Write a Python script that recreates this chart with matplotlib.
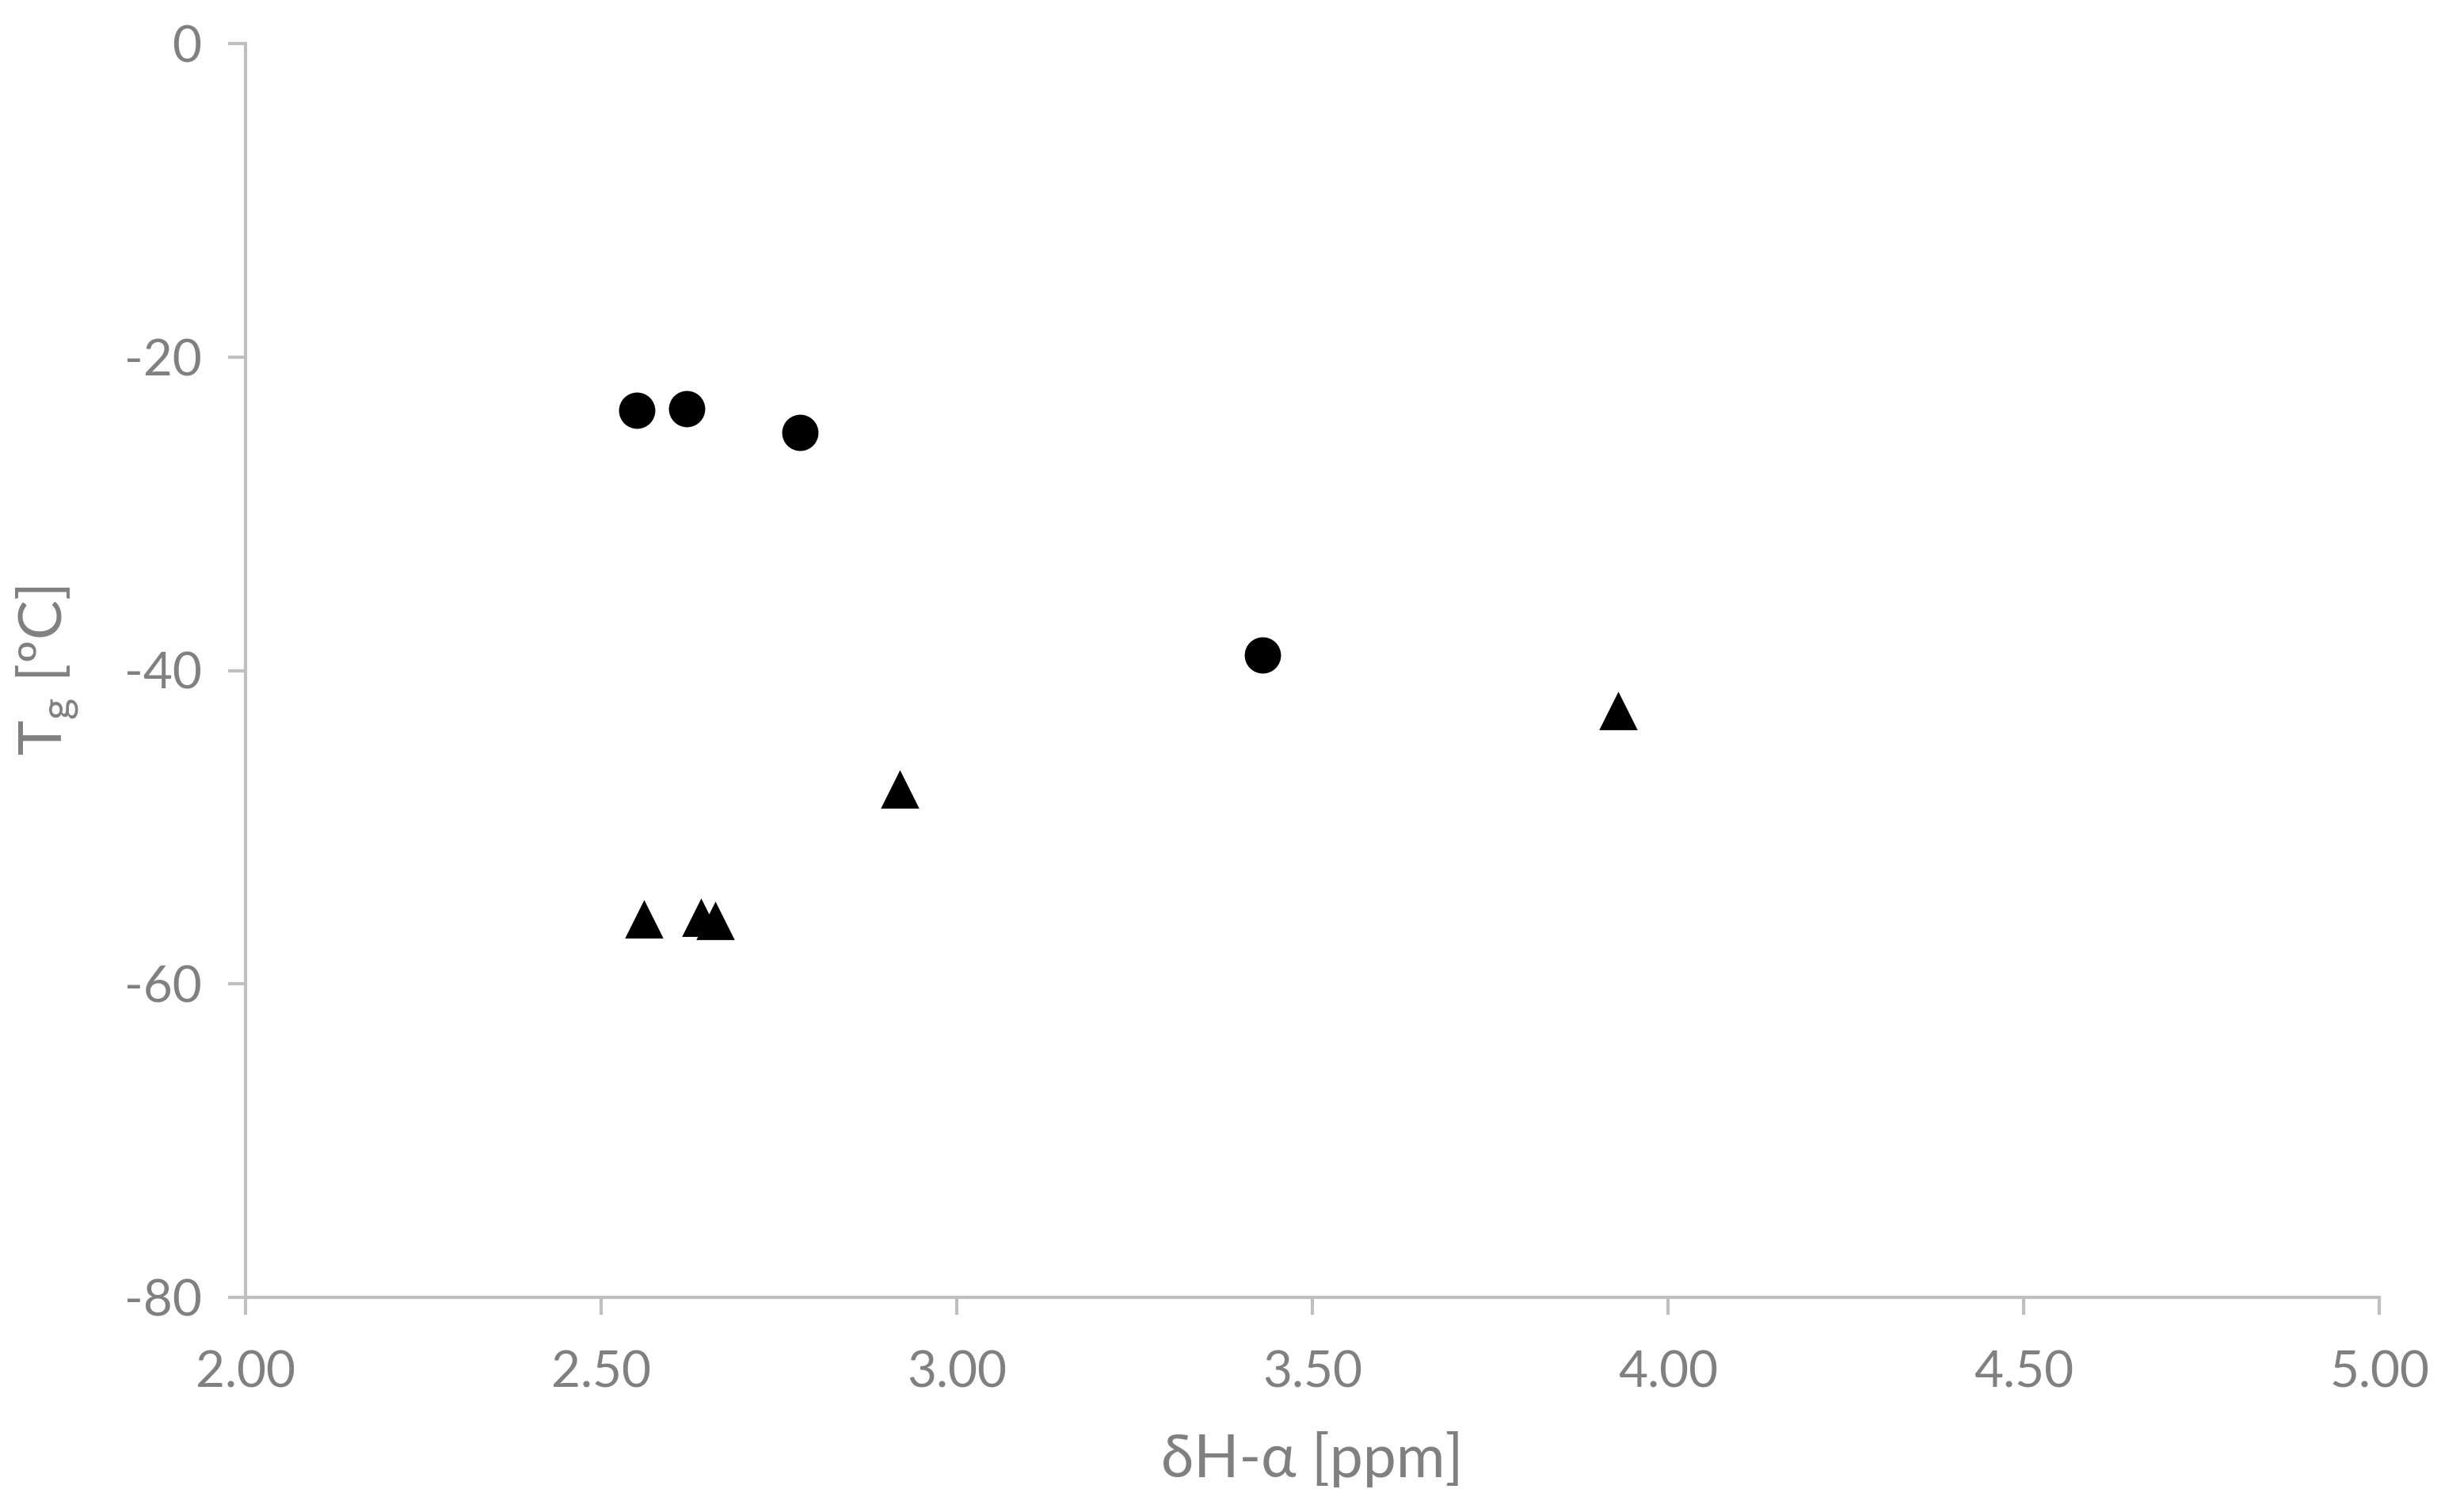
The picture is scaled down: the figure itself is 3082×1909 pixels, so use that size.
import matplotlib
matplotlib.use("Agg")
import matplotlib.pyplot as plt

# circles series
circle_x = [2.55, 2.62, 2.78, 3.43]
circle_y = [-23.4, -23.3, -24.8, -39.0]

# triangles series
tri_x = [2.56, 2.64, 2.66, 2.92, 3.93]
tri_y = [-55.9, -55.8, -56.0, -47.6, -42.6]

x_ticks = [2.00, 2.50, 3.00, 3.50, 4.00, 4.50, 5.00]
y_ticks = [0, -20, -40, -60, -80]

plt.rcParams['font.family'] = ['Lato', 'DejaVu Sans']
plt.rcParams['mathtext.fontset'] = 'custom'
plt.rcParams['mathtext.rm'] = 'Lato'

grey = "#808080"
axis_col = "#bfbfbf"

fig = plt.figure(figsize=(15.41, 9.545), dpi=200)
ax = fig.add_axes([310 / 3082, 1 - 1638 / 1909, (3004 - 310) / 3082, (1638 - 55) / 1909])

ax.plot(circle_x, circle_y, linestyle="none", marker="o", markersize=15.5, color="black")
ax.plot(tri_x, tri_y, linestyle="none", marker="^", markersize=16, color="black")

ax.set_xlim(2.0, 5.0)
ax.set_ylim(-80, 0)
ax.set_xticks(x_ticks)
ax.set_xticklabels([f"{v:.2f}" for v in x_ticks])
ax.set_yticks(y_ticks)
ax.set_yticklabels([str(v) for v in y_ticks])

for s in ["top", "right"]:
    ax.spines[s].set_visible(False)
for s in ["left", "bottom"]:
    ax.spines[s].set_color(axis_col)
    ax.spines[s].set_linewidth(1.5)

ax.tick_params(axis="both", colors=axis_col, width=1.5, length=8, labelcolor=grey, labelsize=23)
ax.tick_params(axis="x", pad=16)
ax.tick_params(axis="y", pad=12)

ax.set_xlabel("δH-α [ppm]", color=grey, fontsize=27, labelpad=16)
ax.set_ylabel("T$_\\mathregular{g}$ [ºC]", color=grey, fontsize=27, labelpad=20)

fig.savefig("out.png", dpi=200)
